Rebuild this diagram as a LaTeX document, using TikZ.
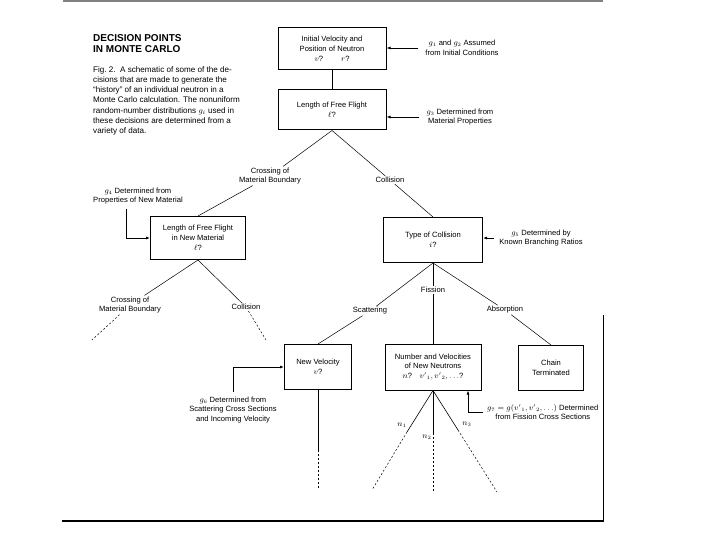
\documentclass[tikz,border=0pt]{standalone}
\usepackage{fontspec}
\setmainfont{Liberation Sans}
\usepackage{tikz}
\usetikzlibrary{arrows.meta}

\tikzset{
  decbox/.style={draw, line width=1pt, align=center, inner sep=0pt},
  branch/.style={align=center, inner sep=1pt},
  gnote/.style={align=center, inner sep=1pt},
  feed/.style={-{Latex[length=4pt,width=3pt]}, line width=0.8pt},
  trail/.style={dash pattern=on 2pt off 2pt}
}

\begin{document}
\begin{tikzpicture}[x=1pt, y=-1pt, every node/.style={font=\fontsize{7.6}{9.8}\selectfont}]
  \useasboundingbox (0,0) rectangle (720,540);
  \draw[gray, line width=1.5pt] (63,1) -- (603,1);
  \draw[line width=1pt] (603,315) -- (603,521);
  \draw[line width=1.2pt] (62,521) -- (603.5,521);

  \node[anchor=north west, align=left, inner sep=0pt, font=\fontsize{10}{11.5}\selectfont\bfseries] (title) at (93,34) {DECISION POINTS\\IN MONTE CARLO};
  \node[anchor=north west, align=left, inner sep=0pt, font=\fontsize{8.1}{10.3}\selectfont] (caption) at (93,66) {Fig.~2.\ \ A schematic of some of the de-\\cisions that are made to generate the\\``history'' of an individual neutron in a\\Monte Carlo calculation. The nonuniform\\random-number distributions $g_i$ used in\\these decisions are determined from a\\variety of data.};

  \node[decbox, minimum width=108pt, minimum height=42pt] (init) at (332,49) {Initial Velocity and\\Position of Neutron\\$v$?\hspace{18pt}$r$?};
  \node[decbox, minimum width=108pt, minimum height=40pt] (flight) at (332,110) {Length of Free Flight\\$\ell$?};
  \node[decbox, minimum width=95pt, minimum height=43pt] (newflight) at (198,238) {Length of Free Flight\\in New Material\\$\ell$?};
  \node[decbox, minimum width=99pt, minimum height=45pt] (colltype) at (433,240) {Type of Collision\\$i$?};
  \node[decbox, minimum width=67pt, minimum height=45pt] (newvel) at (318,367) {New Velocity\\$v$?};
  \node[decbox, minimum width=96pt, minimum height=46pt] (fissout) at (433,367) {Number and Velocities\\of New Neutrons\\$n$?\quad${v'}_1, {v'}_2, \ldots$?};
  \node[decbox, minimum width=65pt, minimum height=45pt] (chain) at (551,368) {Chain\\Terminated};

  \node[gnote] (ginit) at (462,48) {$g_1$ and $g_2$ Assumed\\from Initial Conditions};
  \node[gnote] (gmat) at (460,117) {$g_3$ Determined from\\Material Properties};
  \node[gnote] (gnew) at (138,196) {$g_4$ Determined from\\Properties of New Material};
  \node[gnote] (gbranch) at (541,238) {$g_5$ Determined by\\Known Branching Ratios};
  \node[gnote] (gscat) at (233,410) {$g_6$ Determined from\\Scattering Cross Sections\\and Incoming Velocity};
  \node[gnote, anchor=west] (gfiss) at (486,412) {$g_7 = g({v'}_1, {v'}_2, \ldots)$ Determined\\from Fission Cross Sections};

  \node[branch] (cross) at (270,176) {Crossing of\\Material Boundary};
  \node[branch] (coll) at (390,180) {Collision};
  \node[branch] (crossb) at (130,305) {Crossing of\\Material Boundary};
  \node[branch] (collb) at (246,307) {Collision};
  \node[branch] (scat) at (370,311) {Scattering};
  \node[branch] (fiss) at (433,290) {Fission};
  \node[branch] (absorb) at (505,310) {Absorption};

  \node[branch] (none) at (402,425) {$n_1$};
  \node[branch] (ntwo) at (427,437) {$n_2$};
  \node[branch] (nthree) at (467,424) {$n_3$};

  \coordinate (crossend) at (92,340);
  \coordinate (collend) at (266,340);
  \coordinate (velmid) at (318,450);
  \coordinate (velend) at (318,488);
  \coordinate (onemid) at (407,432);
  \coordinate (oneend) at (372,490);
  \coordinate (twomid) at (433,433);
  \coordinate (twoend) at (433,493);
  \coordinate (threemid) at (458,430);
  \coordinate (threeend) at (497,492);

  \draw[line width=0.8pt] (init) -- (flight);
  \draw[line width=0.5pt] (flight.south) -- (cross);
  \draw[line width=0.5pt] (cross) -- (newflight.north);
  \draw[line width=0.5pt] (flight.south) -- (coll);
  \draw[line width=0.5pt] (coll) -- (colltype.north);
  \draw[line width=0.5pt] (newflight.south) -- (crossb);
  \draw[line width=0.5pt, trail] (crossb) -- (crossend);
  \draw[line width=0.5pt] (newflight.south) -- (collb);
  \draw[line width=0.5pt, trail] (collb) -- (collend);
  \draw[line width=0.5pt] (colltype.south) -- (scat);
  \draw[line width=0.5pt] (scat) -- (newvel.north);
  \draw[line width=0.5pt] (colltype.south) -- (fiss);
  \draw[line width=0.8pt] (fiss) -- (fissout.north);
  \draw[line width=0.5pt] (colltype.south) -- (absorb);
  \draw[line width=0.5pt] (absorb) -- (chain.north);

  \draw[line width=0.8pt] (newvel.south) -- (velmid);
  \draw[line width=0.5pt, trail] (velmid) -- (velend);
  \draw[line width=0.6pt] (fissout.south) -- (onemid);
  \draw[line width=0.5pt, trail] (onemid) -- (oneend);
  \draw[line width=0.8pt] (fissout.south) -- (twomid);
  \draw[line width=0.5pt, trail] (twomid) -- (twoend);
  \draw[line width=0.6pt] (fissout.south) -- (threemid);
  \draw[line width=0.5pt, trail] (threemid) -- (threeend);

  \draw[feed, shorten <=6pt] (ginit.west) -- (ginit.west -| init.east);
  \draw[feed, shorten <=6pt] (gmat.west) -- (gmat.west -| flight.east);
  \draw[feed, shorten <=4pt] (gbranch.west) -- (gbranch.west -| colltype.east);
  \draw[feed, shorten <=3pt] ([xshift=-12pt]gnew.south) |- (newflight.west);
  \draw[feed, shorten <=3pt] (gscat.north) |- (newvel.west);
  \draw[feed, shorten <=3pt] (gfiss.west) -| ([xshift=35pt]fissout.south);
\end{tikzpicture}
\end{document}
